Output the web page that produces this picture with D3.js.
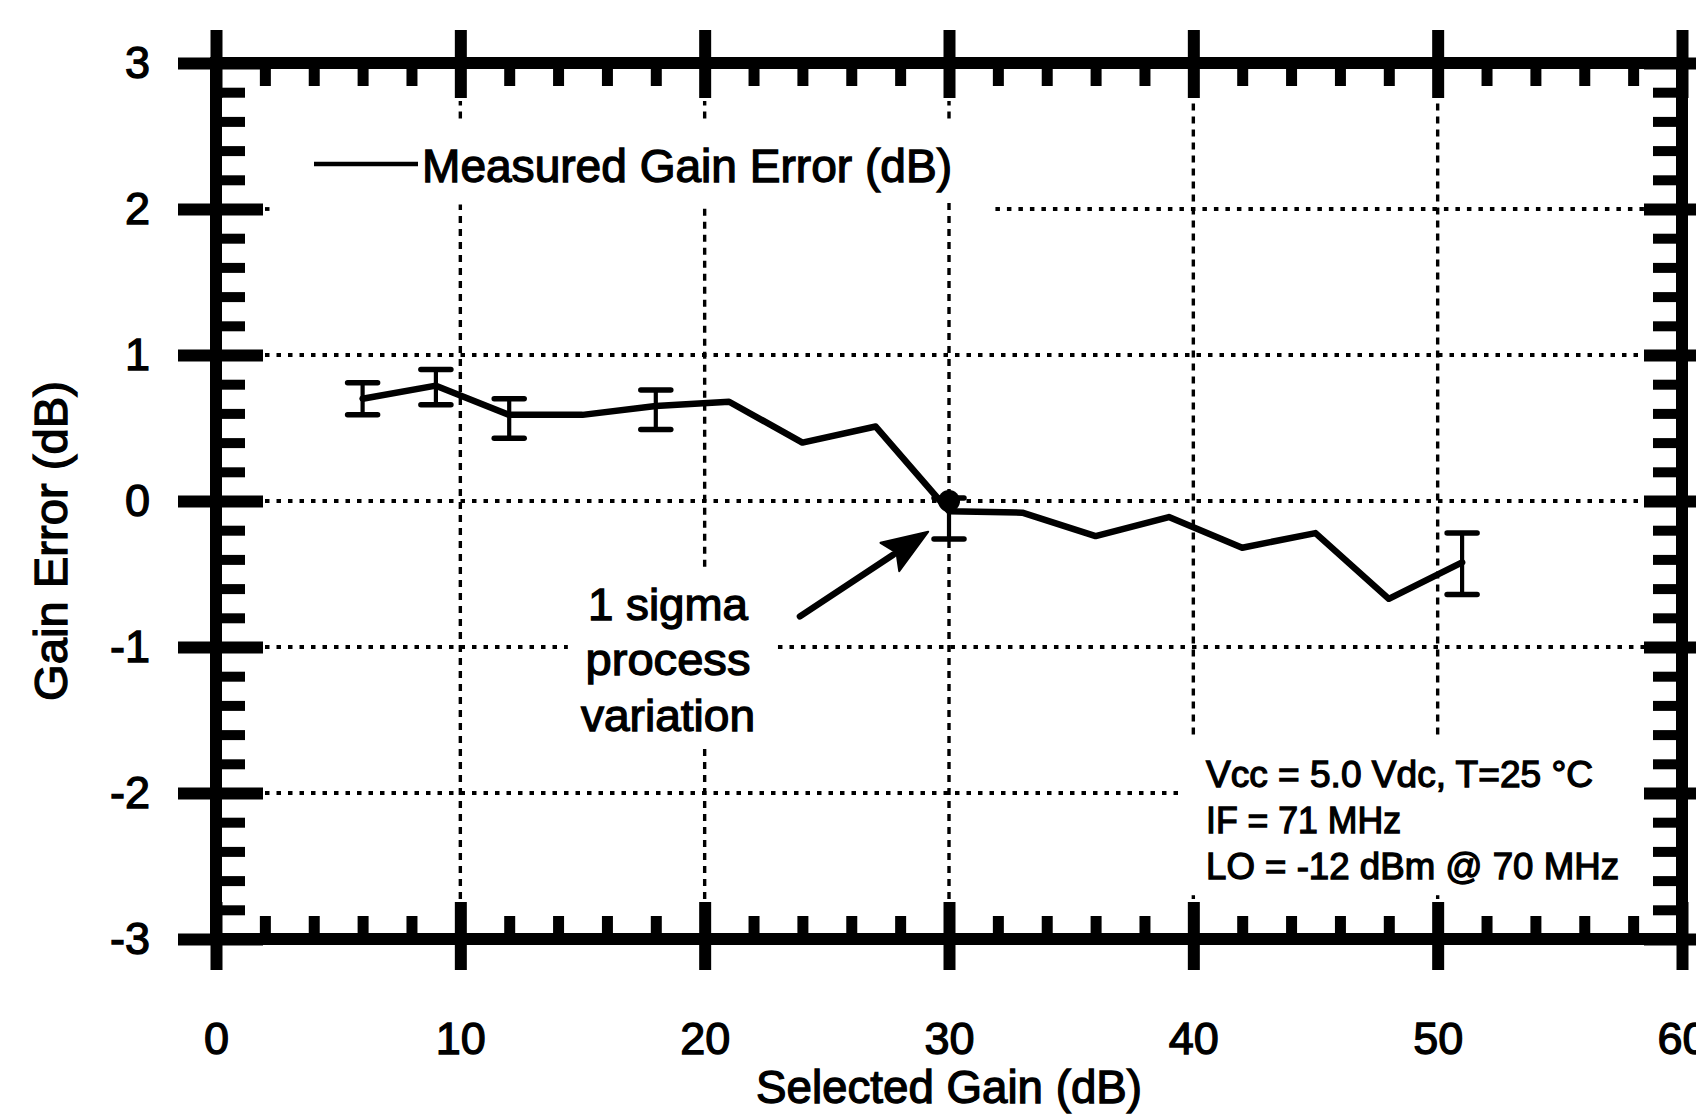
<!DOCTYPE html>
<html><head><meta charset="utf-8">
<script src="https://cdn.jsdelivr.net/npm/d3@7"></script>
<style>
body{margin:0;background:#fff}
svg{display:block}
text{font-family:"Liberation Sans",Arial,Helvetica,sans-serif;fill:#000;stroke:#000;stroke-width:1.3px}
</style>
</head><body>
<svg id="c" width="1696" height="1116"></svg>
<script>
// ---------- data ----------
const xTickValues = [0, 10, 20, 30, 40, 50, 60];
const xTickLabels = ["0", "10", "20", "30", "40", "50", "60"];
const yTickValues = [-3, -2, -1, 0, 1, 2, 3];
const yTickLabels = ["-3", "-2", "-1", "0", "1", "2", "3"];
const gain      = [6, 9, 12, 15, 18, 21, 24, 27, 30, 33, 36, 39, 42, 45, 48, 51];
const gainError = [0.70, 0.79, 0.59, 0.59, 0.65, 0.68, 0.40, 0.51, -0.07, -0.08, -0.24, -0.11, -0.32, -0.22, -0.67, -0.42];
const sigmaGain = [6, 9, 12, 18, 30, 51];
const sigmaLow  = [0.59, 0.66, 0.43, 0.49, -0.26, -0.64];
const sigmaHigh = [0.81, 0.90, 0.70, 0.76, 0.02, -0.22];
const legendLabel = "Measured Gain Error (dB)";
const xTitle = "Selected Gain (dB)";
const yTitle = "Gain Error (dB)";
const noteLines = ["1 sigma", "process", "variation"];
const condLines = ["Vcc = 5.0 Vdc, T=25 °C", "IF = 71 MHz", "LO = -12 dBm @ 70 MHz"];
// annotation arrow, in data units
const noteArrowFrom = [23.9, -0.79];
const noteArrowTo   = [29.15, -0.21];

// ---------- setup ----------
const svg = d3.select("#c");
svg.append("rect").attr("width", 1696).attr("height", 1116).attr("fill", "#fff");
const x = d3.scaleLinear().domain([0, 60]).range([216, 1682]);
const y = d3.scaleLinear().domain([-3, 3]).range([939, 63]);

const isInt = v => Math.abs(v - Math.round(v)) < 1e-6;
const xMinor = d3.range(0, 60.001, 2).filter(v => v % 10 !== 0);
const yMinor = d3.range(-3, 3.0001, 0.2).map(v => +v.toFixed(2)).filter(v => !isInt(v));

// ---------- gridlines ----------
const grid = svg.append("g");
const hGaps = {"2": [[2.4, 31.9]], "-1": [[14.4, 23.0]], "-2": [[39.6, 60]]};
const vGaps = {"10": [[2.03, 2.62]], "20": [[2.03, 2.62], [-1.67, -0.45]], "30": [[2.05, 2.62]], "40": [[-2.7, -1.6]], "50": [[-2.7, -1.6]]};
function segments(lo, hi, gaps) {
  let segs = [[lo, hi]];
  (gaps || []).forEach(([a, b]) => {
    const out = [];
    segs.forEach(([s, e]) => {
      if (b <= s || a >= e) out.push([s, e]);
      else { if (a > s) out.push([s, a]); if (b < e) out.push([b, e]); }
    });
    segs = out;
  });
  return segs;
}
yTickValues.filter(v => v > -3 && v < 3).forEach(v => {
  const x0 = x.invert(x(0) + 49), x1 = x.invert(x(60) - 38);
  segments(x0, x1, hGaps[String(v)]).forEach(([s, e]) => {
    grid.append("line").attr("x1", x(s)).attr("x2", x(e)).attr("y1", y(v)).attr("y2", y(v))
      .attr("stroke", "#000").attr("stroke-width", 3.8).attr("stroke-dasharray", "4.5,7");
  });
});
xTickValues.filter(v => v > 0 && v < 60).forEach(v => {
  const y0 = y.invert(y(3) + 38), y1 = y.invert(y(-3) - 40);
  segments(y1, y0, vGaps[String(v)]).forEach(([s, e]) => {
    grid.append("line").attr("x1", x(v)).attr("x2", x(v)).attr("y1", y(s)).attr("y2", y(e))
      .attr("stroke", "#000").attr("stroke-width", 3.4).attr("stroke-dasharray", "7,6");
  });
});

// ---------- axes (frame + ticks) ----------
function styleTicks(g, w) {
  g.select(".domain").remove();
  g.selectAll(".tick line").attr("stroke", "#000").attr("stroke-width", w);
  g.selectAll(".tick text").remove();
}
const ax = svg.append("g");
[[0, 3, 60, 3], [0, -3, 60, -3], [0, -3, 0, 3], [60, -3, 60, 3]].forEach(([a, b, c, d]) => {
  ax.append("line").attr("x1", x(a)).attr("y1", y(b)).attr("x2", x(c)).attr("y2", y(d))
    .attr("stroke", "#000").attr("stroke-width", 12).attr("stroke-linecap", "square");
});
// bottom
ax.append("g").attr("transform", `translate(0,${y(-3)})`).call(d3.axisTop(x).tickValues(xMinor).tickSize(23).tickFormat("")).call(styleTicks, 11);
ax.append("g").attr("transform", `translate(0,${y(-3)})`).call(d3.axisTop(x).tickValues(xTickValues).tickSize(37).tickFormat("")).call(styleTicks, 12);
ax.append("g").attr("transform", `translate(0,${y(-3)})`).call(d3.axisBottom(x).tickValues(xTickValues).tickSize(31).tickFormat("")).call(styleTicks, 12);
// top
ax.append("g").attr("transform", `translate(0,${y(3)})`).call(d3.axisBottom(x).tickValues(xMinor).tickSize(23).tickFormat("")).call(styleTicks, 11);
ax.append("g").attr("transform", `translate(0,${y(3)})`).call(d3.axisBottom(x).tickValues(xTickValues).tickSize(35).tickFormat("")).call(styleTicks, 12);
ax.append("g").attr("transform", `translate(0,${y(3)})`).call(d3.axisTop(x).tickValues(xTickValues).tickSize(33).tickFormat("")).call(styleTicks, 12);
// left
ax.append("g").attr("transform", `translate(${x(0)},0)`).call(d3.axisRight(y).tickValues(yMinor).tickSize(29).tickFormat("")).call(styleTicks, 10);
ax.append("g").attr("transform", `translate(${x(0)},0)`).call(d3.axisRight(y).tickValues(yTickValues).tickSize(47).tickFormat("")).call(styleTicks, 12);
ax.append("g").attr("transform", `translate(${x(0)},0)`).call(d3.axisLeft(y).tickValues(yTickValues).tickSize(38).tickFormat("")).call(styleTicks, 12);
// right
ax.append("g").attr("transform", `translate(${x(60)},0)`).call(d3.axisLeft(y).tickValues(yMinor).tickSize(29).tickFormat("")).call(styleTicks, 10);
ax.append("g").attr("transform", `translate(${x(60)},0)`).call(d3.axisLeft(y).tickValues(yTickValues).tickSize(38).tickFormat("")).call(styleTicks, 12);
ax.append("g").attr("transform", `translate(${x(60)},0)`).call(d3.axisRight(y).tickValues(yTickValues).tickSize(40).tickFormat("")).call(styleTicks, 12);

// tick labels
function styleLabels(g) {
  g.select(".domain").remove();
  g.selectAll(".tick line").remove();
  g.attr("font-family", null).attr("font-size", null);
  g.selectAll(".tick text").attr("font-size", 45).attr("fill", "#000");
}
svg.append("g").attr("transform", `translate(0,${y(-3)})`)
  .call(d3.axisBottom(x).tickValues(xTickValues).tickSize(0).tickPadding(83).tickFormat((d, i) => xTickLabels[i]))
  .call(styleLabels);
svg.append("g").attr("transform", `translate(${x(0)},0)`)
  .call(d3.axisLeft(y).tickValues(yTickValues).tickSize(0).tickPadding(66).tickFormat((d, i) => yTickLabels[i]))
  .call(styleLabels);

// axis titles
svg.append("text").attr("x", x(30)).attr("y", 1103).attr("text-anchor", "middle")
  .attr("font-size", 46).attr("textLength", 386).attr("lengthAdjust", "spacingAndGlyphs").text(xTitle);
svg.append("text").attr("transform", "translate(67,541) rotate(-90)").attr("text-anchor", "middle")
  .attr("font-size", 46).attr("textLength", 320).attr("lengthAdjust", "spacingAndGlyphs").text(yTitle);

// ---------- data ----------
const pts = gain.map((g, i) => [g, gainError[i]]);
svg.append("path").datum(pts)
  .attr("d", d3.line().x(d => x(d[0])).y(d => y(d[1])))
  .attr("fill", "none").attr("stroke", "#000").attr("stroke-width", 6.5)
  .attr("stroke-linejoin", "round").attr("stroke-linecap", "round");

const eb = svg.append("g").attr("stroke", "#000");
sigmaGain.forEach((g, i) => {
  const cx = x(g);
  eb.append("line").attr("x1", cx).attr("x2", cx).attr("y1", y(sigmaLow[i])).attr("y2", y(sigmaHigh[i])).attr("stroke-width", 4.2);
  [sigmaLow[i], sigmaHigh[i]].forEach(v => {
    eb.append("line").attr("x1", cx - 15).attr("x2", cx + 15).attr("y1", y(v)).attr("y2", y(v))
      .attr("stroke-width", 5.5).attr("stroke-linecap", "round");
  });
});
// the heavy blob on the 30 dB error bar top
svg.append("circle").attr("cx", x(sigmaGain[4])).attr("cy", y(sigmaHigh[4]) + 3).attr("r", 11).attr("fill", "#000");

// ---------- legend ----------
svg.append("line").attr("x1", 314).attr("x2", 418).attr("y1", 164).attr("y2", 164)
  .attr("stroke", "#000").attr("stroke-width", 4.5);
svg.append("text").attr("x", 422).attr("y", 182).attr("font-size", 46)
  .attr("textLength", 530).attr("lengthAdjust", "spacingAndGlyphs").text(legendLabel);

// ---------- annotation ----------
const noteY = [620, 675, 731];
const noteW = [160, 165, 174];
noteLines.forEach((t, i) => {
  svg.append("text").attr("x", 668).attr("y", noteY[i]).attr("text-anchor", "middle")
    .attr("font-size", 45).attr("textLength", noteW[i]).attr("lengthAdjust", "spacingAndGlyphs").text(t);
});
{
  const ax0 = x(noteArrowFrom[0]), ay0 = y(noteArrowFrom[1]);
  const ax1 = x(noteArrowTo[0]), ay1 = y(noteArrowTo[1]);
  const dx = ax1 - ax0, dy = ay1 - ay0, L = Math.hypot(dx, dy);
  const ux = dx / L, uy = dy / L, px = -uy, py = ux;
  const hl = 46, hw = 17;
  const bx = ax1 - ux * hl, by = ay1 - uy * hl;
  svg.append("line").attr("x1", ax0).attr("y1", ay0).attr("x2", bx + ux * 4).attr("y2", by + uy * 4)
    .attr("stroke", "#000").attr("stroke-width", 6.5).attr("stroke-linecap", "round");
  svg.append("path")
    .attr("d", `M${ax1},${ay1} L${bx + px * hw},${by + py * hw} L${bx + ux * 8},${by + uy * 8} L${bx - px * hw},${by - py * hw} Z`)
    .attr("fill", "#000").attr("stroke", "#000").attr("stroke-width", 2).attr("stroke-linejoin", "round");
}

// ---------- conditions ----------
const condY = [787, 833, 879];
const condW = [387, 195, 413];
condLines.forEach((t, i) => {
  svg.append("text").attr("x", 1206).attr("y", condY[i]).attr("font-size", 37)
    .attr("textLength", condW[i]).attr("lengthAdjust", "spacingAndGlyphs").text(t);
});
</script>
</body></html>
